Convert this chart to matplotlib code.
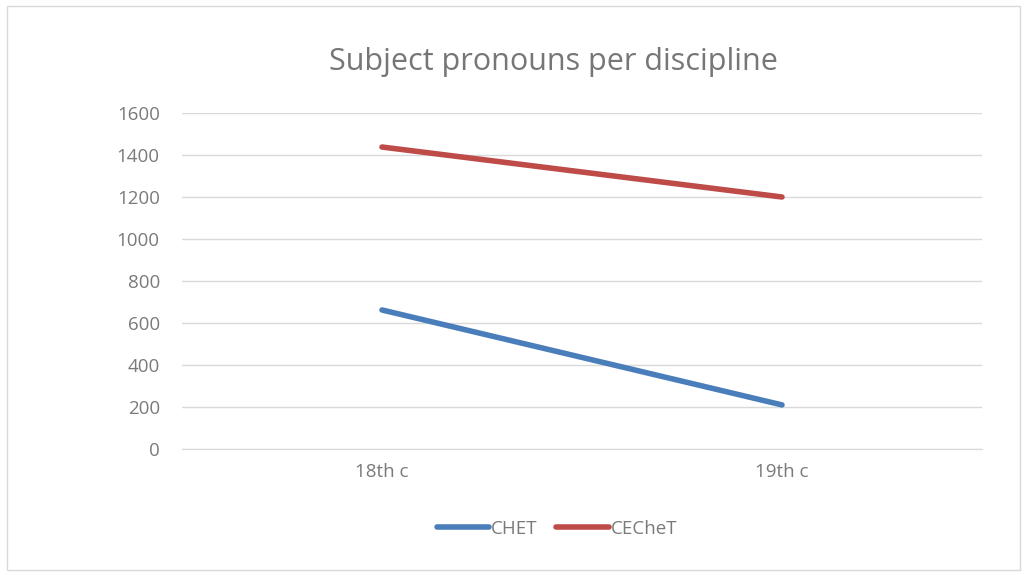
import matplotlib.pyplot as plt
from matplotlib.patches import Rectangle

categories = ["18th c", "19th c"]
chet = [662, 210]
cechet = [1438, 1200]
yticks = [0, 200, 400, 600, 800, 1000, 1200, 1400, 1600]

plt.rcParams['font.family'] = ['Open Sans', 'DejaVu Sans']
text_col = "#7a7a7a"

fig = plt.figure(figsize=(10.26, 5.75), dpi=100)
fig.patches.append(Rectangle((7/1026, 5/575), 1013/1026, 564/575, transform=fig.transFigure,
                             fill=False, edgecolor="#d9d9d9", linewidth=1))

ax = fig.add_axes([182/1026, (575-449)/575, 800/1026, 336/575])
x = range(len(categories))
ax.plot(x, chet, color="#4a7ebb", linewidth=4, solid_capstyle="round", label="CHET")
ax.plot(x, cechet, color="#be4b48", linewidth=4, solid_capstyle="round", label="CECheT")

ax.set_xlim(-0.5, 1.5)
ax.set_ylim(0, 1600)
ax.set_yticks(yticks)
ax.set_xticks(list(x))
ax.set_xticklabels(categories)
ax.grid(axis="y", color="#d9d9d9", linewidth=1)
ax.set_axisbelow(True)
for s in ["top", "right", "left"]:
    ax.spines[s].set_visible(False)
ax.spines["bottom"].set_color("#d9d9d9")
ax.tick_params(axis="both", length=0, colors=text_col, labelsize=13.5)
ax.tick_params(axis="y", pad=16)
ax.tick_params(axis="x", pad=10)

fig.text(553/1026, 1 - 62/575, "Subject pronouns per discipline", ha="center", va="center",
         fontsize=22, color="#767676")

fig.legend(loc="center", bbox_to_anchor=(557/1026, 1 - 529/575), ncol=2, frameon=False,
           fontsize=13.5, labelcolor=text_col, handlelength=2.8, handletextpad=0.1, columnspacing=1.0)

fig.savefig("out.png", dpi=100)
